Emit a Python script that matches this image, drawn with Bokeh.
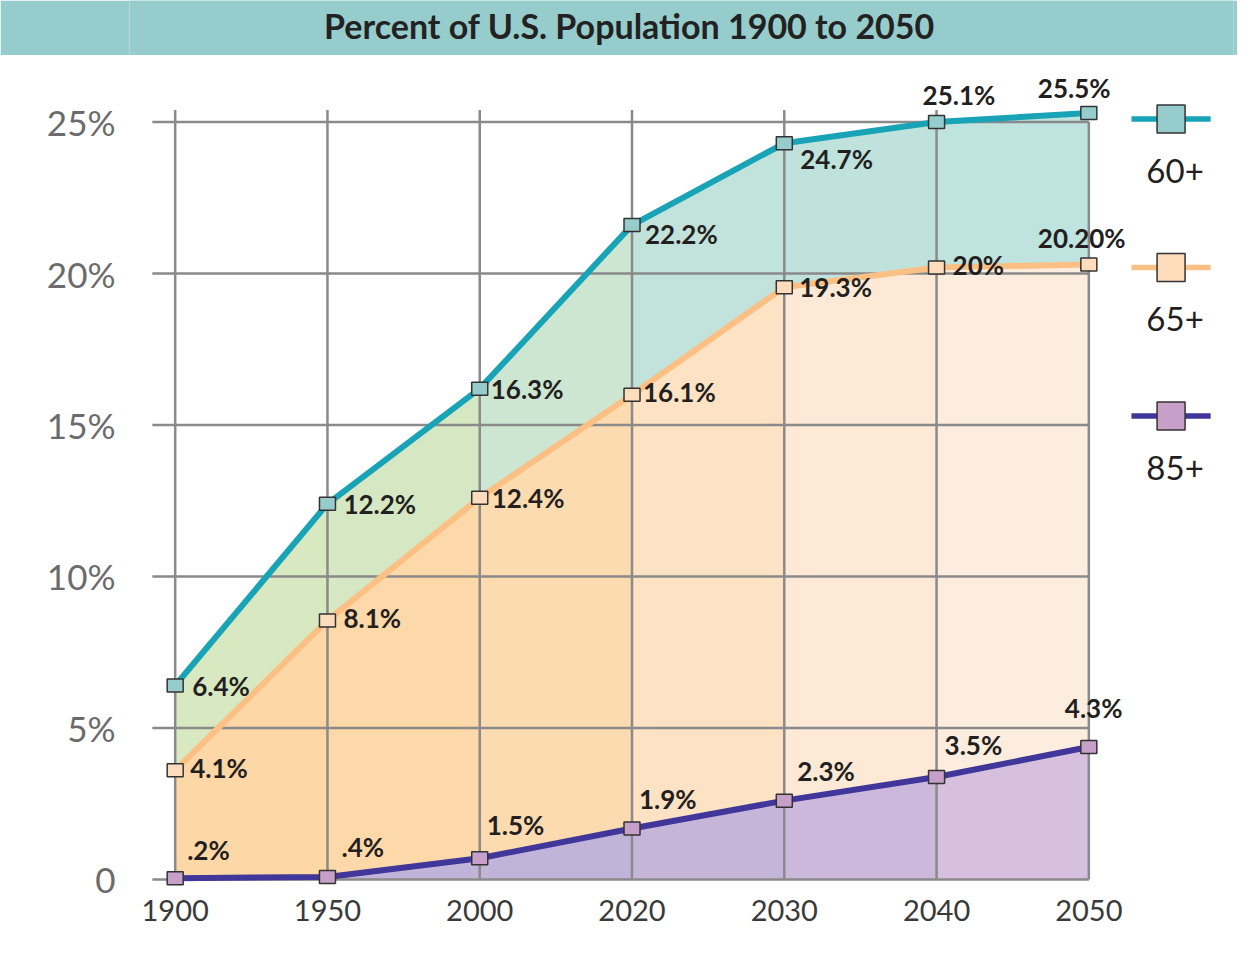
from bokeh.plotting import figure
from bokeh.models import ColumnDataSource, FixedTicker, Range1d
from bokeh.layouts import column
from bokeh.core.properties import value
from bokeh.embed import file_html
from bokeh.resources import INLINE

# ---------------- data ----------------
years = ["1900", "1950", "2000", "2020", "2030", "2040", "2050"]
series_names = ["60+", "65+", "85+"]
pct_60 = [6.4, 12.4, 16.2, 21.6, 24.3, 25.0, 25.3]
pct_65 = [3.6, 8.55, 12.6, 16.0, 19.55, 20.2, 20.3]
pct_85 = [0.04, 0.08, 0.7, 1.68, 2.6, 3.38, 4.37]
labels_60 = ["6.4%", "12.2%", "16.3%", "22.2%", "24.7%", "25.1%", "25.5%"]
labels_65 = ["4.1%", "8.1%", "12.4%", "16.1%", "19.3%", "20%", "20.20%"]
labels_85 = [".2%", ".4%", "1.5%", "1.9%", "2.3%", "3.5%", "4.3%"]
y_ticks = [0, 5, 10, 15, 20, 25]
y_tick_labels = ["0", "5%", "10%", "15%", "20%", "25%"]
title_text = "Percent of U.S. Population 1900 to 2050"

# ---------------- styles ----------------
FONT = value("Lato")
TEAL_BAR = "#96cccc"
line_colors = ["#19a3b6", "#fcc084", "#41369a"]
marker_fills = ["#96cccc", "#fedcbc", "#c6a0c8"]
band_a = ["#d8e8c0", "#d6e8c3", "#cce6d2", "#c2e3dc", "#bfe2dd", "#bfe3de"]
band_b = ["#fdd7a5", "#fdd8a8", "#fddbb0", "#fde3c4", "#fde9d6", "#fdeddf"]
band_c = ["#c2b4d8", "#c2b4d8", "#c2b4d8", "#c5b5d8", "#cbb8da", "#d6c0de"]
GRID = "#8a8a8a"

off_60 = [(17, 0), (16, 0), (11, 0), (13, 9), (16, 16), (-14, -27), (-51, -25)]
off_65 = [(15, -2), (16, -2), (12, 0), (11, -3), (15, 0), (16, -2), (-51, -26)]
off_85 = [(12, -28), (14, -30), (7, -33), (7, -30), (13, -30), (8, -32), (-24, -39)]

xs = list(range(len(years)))

W = 1237
TITLE_H = 55
MAIN_H = 905

# ---------------- title bar ----------------
pt = figure(width=W, height=TITLE_H, x_range=(0, 1), y_range=(0, 1),
            toolbar_location=None, output_backend="svg", min_border=0)
pt.axis.visible = False
pt.grid.visible = False
pt.outline_line_color = None
pt.background_fill_color = TEAL_BAR
pt.border_fill_color = TEAL_BAR
pt.text(x=[0.5], y=[0.5], text=[title_text], text_font=FONT, text_font_style="bold",
        text_font_size="34px", text_color="#222222", text_align="center",
        text_baseline="middle", x_offset=-52, y_offset=-3)

# ---------------- main plot ----------------
p = figure(width=W, height=MAIN_H, x_range=Range1d(-0.3, 6.95), y_range=Range1d(-0.3, 27.0),
           toolbar_location=None, output_backend="svg",
           min_border_left=129, min_border_right=4, min_border_top=6, min_border_bottom=72)
p.outline_line_color = None
p.grid.visible = False
p.background_fill_color = "white"
p.border_fill_color = "white"

# fills per interval
for i in range(len(xs) - 1):
    seg = slice(i, i + 2)
    p.varea(x=xs[seg], y1=pct_65[seg], y2=pct_60[seg], fill_color=band_a[i])
    p.varea(x=xs[seg], y1=pct_85[seg], y2=pct_65[seg], fill_color=band_b[i])
    p.varea(x=xs[seg], y1=[0, 0], y2=pct_85[seg], fill_color=band_c[i])

# grid lines
p.segment(x0=[-0.15] * len(y_ticks), x1=[xs[-1]] * len(y_ticks), y0=y_ticks, y1=y_ticks,
          line_color=GRID, line_width=2.5)
vtops = [y_ticks[-1] + 0.4] * (len(xs) - 1) + [y_ticks[-1]]
p.segment(x0=xs, x1=xs, y0=[0] * len(xs), y1=vtops, line_color=GRID, line_width=2.5)

# lines, markers, labels
all_vals = [pct_60, pct_65, pct_85]
all_labels = [labels_60, labels_65, labels_85]
all_offs = [off_60, off_65, off_85]
for k in range(3):
    p.line(xs, all_vals[k], line_color=line_colors[k], line_width=6, line_join="round")
for k in range(3):
    p.rect(xs, all_vals[k], width=16, height=13, width_units="screen", height_units="screen",
           fill_color=marker_fills[k], line_color="#333333", line_width=1.5)
    src = ColumnDataSource(dict(x=xs, y=all_vals[k], t=all_labels[k],
                                xo=[o[0] for o in all_offs[k]], yo=[o[1] for o in all_offs[k]]))
    p.text(x="x", y="y", text="t", source=src, x_offset="xo", y_offset="yo",
           text_font=FONT, text_font_style="bold", text_font_size="26px",
           text_color="#231f20", text_align="left", text_baseline="middle")

# manual legend (label under the symbol)
leg_x = 6.54
leg_half = 0.26
leg_y = [25.1, 20.2, 15.3]
p.segment(x0=[leg_x - leg_half] * 3, x1=[leg_x + leg_half] * 3, y0=leg_y, y1=leg_y,
          line_color=line_colors, line_width=5.5)
p.rect([leg_x] * 3, leg_y, width=28, height=28, width_units="screen", height_units="screen",
       fill_color=marker_fills, line_color="#333333", line_width=1.5)
p.text(x=[leg_x] * 3, y=leg_y, text=series_names, x_offset=4, y_offset=52,
       text_font=FONT, text_font_size="33px", text_color="#231f20",
       text_align="center", text_baseline="middle")

# axes
p.yaxis.ticker = FixedTicker(ticks=y_ticks)
p.yaxis.major_label_overrides = {t: s for t, s in zip(y_ticks, y_tick_labels)}
p.yaxis.major_label_text_font = "Lato"
p.yaxis.major_label_text_font_size = "35px"
p.yaxis.major_label_text_color = "#6b6b6b"
p.yaxis.major_label_standoff = 8
p.xaxis.ticker = FixedTicker(ticks=xs)
p.xaxis.major_label_overrides = {x: y for x, y in zip(xs, years)}
p.xaxis.major_label_text_font = "Lato"
p.xaxis.major_label_text_font_size = "29px"
p.xaxis.major_label_text_color = "#3a3a3a"
p.xaxis.major_label_standoff = 5
for ax in (p.xaxis, p.yaxis):
    ax.axis_line_color = None
    ax.major_tick_line_color = None
    ax.minor_tick_line_color = None

layout = column(pt, p, spacing=0)
open("out.html", "w").write(file_html(layout, INLINE))
